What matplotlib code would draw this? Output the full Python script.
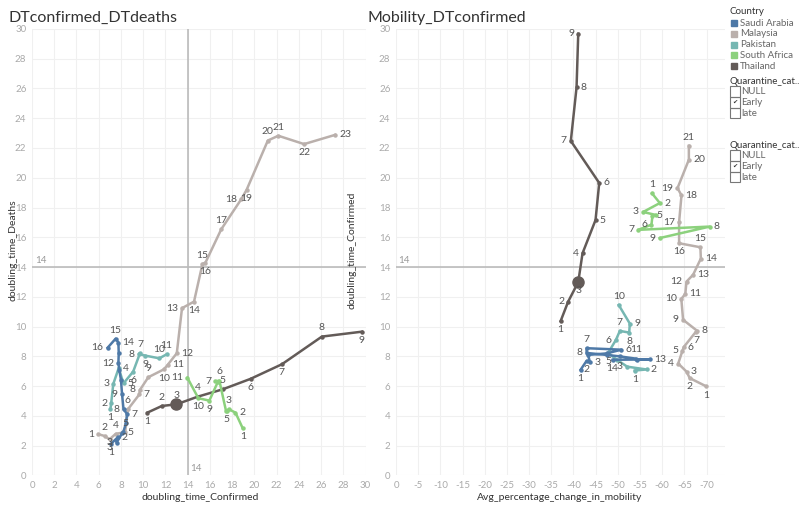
import matplotlib.pyplot as plt
from matplotlib.patches import Rectangle

plt.rcParams['font.family'] = ['Lato', 'DejaVu Sans']
plt.rcParams['axes.unicode_minus'] = False

countries = ["Saudi Arabia", "Malaysia", "Pakistan", "South Africa", "Thailand"]
colors = {"Saudi Arabia": "#4e79a7", "Malaysia": "#bab0ac", "Pakistan": "#76b7b2",
          "South Africa": "#8cd17d", "Thailand": "#635b58"}

# doubling time of confirmed cases, per week index (1..n)
dtc = {
    "Saudi Arabia": [7.1, 7.7, 7.6, 8.1, 8.2, 8.45, 8.55, 8.23, 8.1, 8.0, 7.85, 7.77, 7.8, 7.77, 7.52, 6.8],
    "Malaysia": [5.98, 6.54, 6.97, 7.52, 8.38, 8.63, 9.66, 9.71, 10.46, 11.86, 12.2, 13.02, 13.49, 14.57,
                 15.33, 15.6, 17.02, 18.82, 19.3, 21.21, 22.15, 24.47, 27.26],
    "Pakistan": [7.05, 7.12, 7.31, 7.79, 8.23, 9.1, 9.71, 9.6, 10.2, 11.45, 12.11],
    "South Africa": [18.95, 18.3, 17.7, 17.5, 17.45, 16.85, 16.5, 16.72, 15.95, 14.96, 13.97],
    "Thailand": [10.37, 11.68, 12.99, 14.93, 17.16, 19.65, 22.47, 26.07, 29.67],
}

# doubling time of deaths
dtd = {
    "Saudi Arabia": [2.12, 2.56, 2.2, 2.83, 2.9, 3.5, 4.13, 4.45, 5.45, 6.42, 7.09, 7.54, 8.21, 8.93, 9.19, 8.58],
    "Malaysia": [2.77, 2.65, 2.43, 2.79, 2.92, 4.45, 5.45, 5.75, 6.6, 7.13, 7.43, 8.21, 11.24, 11.68,
                 14.21, 14.3, 16.54, 18.56, 19.19, 22.5, 22.82, 22.26, 22.88],
    "Pakistan": [4.45, 4.85, 6.15, 7.2, 6.19, 6.98, 8.21, 8.16, 8.05, 7.87, 8.14],
    "South Africa": [3.17, 4.22, 4.45, 4.36, 4.33, 6.37, 6.33, 6.3, 5.03, 5.19, 6.57],
    "Thailand": [4.22, 4.67, 4.78, 5.3, 5.79, 6.49, 7.47, 9.33, 9.66],
}

# avg percentage change in mobility
mobility = {
    "Saudi Arabia": [-41.6, -42.95, -43.7, -43.3, -47.45, -50.8, -42.95, -42.95, -47.45, -50.45, -54.05,
                     -54.35, -57.2, -48.8],
    "Malaysia": [-69.97, -66.2, -65.5, -63.6, -64.56, -64.86, -67.6, -67.9, -64.7, -64.3, -65.2, -65.47,
                 -66.97, -68.7, -68.6, -63.8, -63.8, -64.34, -63.44, -66.0, -66.0],
    "Pakistan": [-53.8, -56.46, -52.1, -49.7, -47.8, -49.55, -50.45, -52.55, -52.7, -50.2],
    "South Africa": [-57.7, -59.46, -55.7, -58.56, -57.8, -57.57, -54.58, -70.7, -59.46],
    "Thailand": [-37.1, -38.8, -41.07, -42.04, -44.97, -45.8, -39.4, -40.69, -41.07],
}

highlight = ("Thailand", 3)  # big dot
ref_value = 14
draw_order = ["Malaysia", "Thailand", "South Africa", "Pakistan", "Saudi Arabia"]

# where each point label sits: r/l/a/b = right/left/above/below, n = hidden (as tableau does)
label_side_left = {
    "Saudi Arabia": "brlnrnrllnnlnral",
    "Malaysia": "labaaarlabrrlbabalbaabr",
    "Pakistan": "bllrrbalbaa",
    "South Africa": "branbalnbbl",
    "Thailand": "baaaabbab",
}
label_side_right = {
    "Saudi Arabia": "bbrnnralnnanrb",
    "Malaysia": "bbrllrbrllrlrrablrlra",
    "Pakistan": "brlnblabra",
    "South Africa": "arlnrllrl",
    "Thailand": "blblrrlrl",
}
offsets = {"r": ((3, 0), "left", "center"), "l": ((-3, 0), "right", "center"),
           "a": ((0, 3), "center", "bottom"), "b": ((0, -3), "center", "top")}

fig = plt.figure(figsize=(8, 5.11), dpi=100)
ax1 = fig.add_axes([0.04, 0.0695, 0.417, 0.874])
ax2 = fig.add_axes([0.495, 0.0695, 0.411, 0.874])

label_col = "#555555"
tick_col = "#aaaaaa"


def style(ax):
    for s in ax.spines.values():
        s.set_visible(False)
    ax.grid(True, color="#f0f0f0", lw=0.8)
    ax.set_axisbelow(True)
    ax.tick_params(length=0, labelsize=7, labelcolor=tick_col, pad=4)
    ax.set_ylim(0, 30)
    ax.set_yticks(range(0, 31, 2))


def draw(ax, xs, ys, country, sides):
    c = colors[country]
    ax.plot(xs, ys, color=c, lw=1.8, marker="o", ms=2.2, zorder=3, clip_on=False)
    for i, (x, y) in enumerate(zip(xs, ys)):
        if (country, i + 1) == highlight:
            ax.plot(x, y, "o", color=c, ms=8, zorder=4)
        side = sides[i] if i < len(sides) else "r"
        if side == "n":
            continue
        off, ha, va = offsets[side]
        ax.annotate(str(i + 1), (x, y), xytext=off, textcoords="offset points",
                    fontsize=7.5, color=label_col, ha=ha, va=va, zorder=5)


# left chart
style(ax1)
ax1.set_xlim(0, 30)
ax1.set_xticks(range(0, 31, 2))
ax1.axvline(ref_value, color="#bbbbbb", lw=1.2, zorder=2)
ax1.axhline(ref_value, color="#bbbbbb", lw=1.2, zorder=2)
ax1.text(0.3, ref_value + 0.15, "14", fontsize=7, color="#999999", va="bottom")
ax1.text(ref_value + 0.25, 0.2, "14", fontsize=7, color="#999999", va="bottom")
for c in draw_order:
    draw(ax1, dtc[c], dtd[c], c, label_side_left[c])
fig.text(0.25, 0.027, "doubling_time_Confirmed", fontsize=7.5, color="#333333", ha="center", va="center")
fig.text(0.016, 0.51, "doubling_time_Deaths", fontsize=7.5, color="#333333", ha="center", va="center",
         rotation=90)
fig.text(0.01, 0.965, "DTconfirmed_DTdeaths", fontsize=11.5, color="#333333", va="center")

# right chart
style(ax2)
ax2.set_xlim(0, -74.1)
ax2.set_xticks(range(0, -71, -5))
ax2.axhline(ref_value, color="#bbbbbb", lw=1.2, zorder=2)
ax2.text(-0.5, ref_value + 0.15, "14", fontsize=7, color="#999999", va="bottom")
for c in draw_order:
    n = len(mobility[c])
    draw(ax2, mobility[c], dtc[c][:n], c, label_side_right[c])
fig.text(0.7, 0.027, "Avg_percentage_change_in_mobility", fontsize=7.5, color="#333333", ha="center",
         va="center")
fig.text(0.44, 0.51, "doubling_time_Confirmed", fontsize=7.5, color="#333333", ha="center", va="center",
         rotation=90)
fig.text(0.459, 0.965, "Mobility_DTconfirmed", fontsize=11.5, color="#333333", va="center")

# legend panel
fig.text(0.912, 0.977, "Country", fontsize=7, color="#333333", va="center")
for i, c in enumerate(countries):
    y = 1 - (23 + i * 10.8) / 511
    fig.patches.append(Rectangle((0.914, y - 0.006), 0.0075, 0.012, color=colors[c],
                                 transform=fig.transFigure))
    fig.text(0.925, y, c, fontsize=7, color="#666666", va="center")

for top in (81, 145):
    fig.text(0.912, 1 - top / 511, "Quarantine_cat..", fontsize=7, color="#333333", va="center")
    for j, item in enumerate(["NULL", "Early", "late"]):
        y = 1 - (top + 10.5 + j * 10.8) / 511
        fig.patches.append(Rectangle((0.912, y - 0.0105), 0.0135, 0.021, fill=False,
                                     edgecolor="#777777", lw=0.8, transform=fig.transFigure))
        if item == "Early":
            fig.text(0.9187, y, "\u2714", fontsize=4.5, color="#333333", va="center", ha="center")
        fig.text(0.927, y, item, fontsize=7, color="#666666", va="center")

fig.savefig("out.png", dpi=100)
